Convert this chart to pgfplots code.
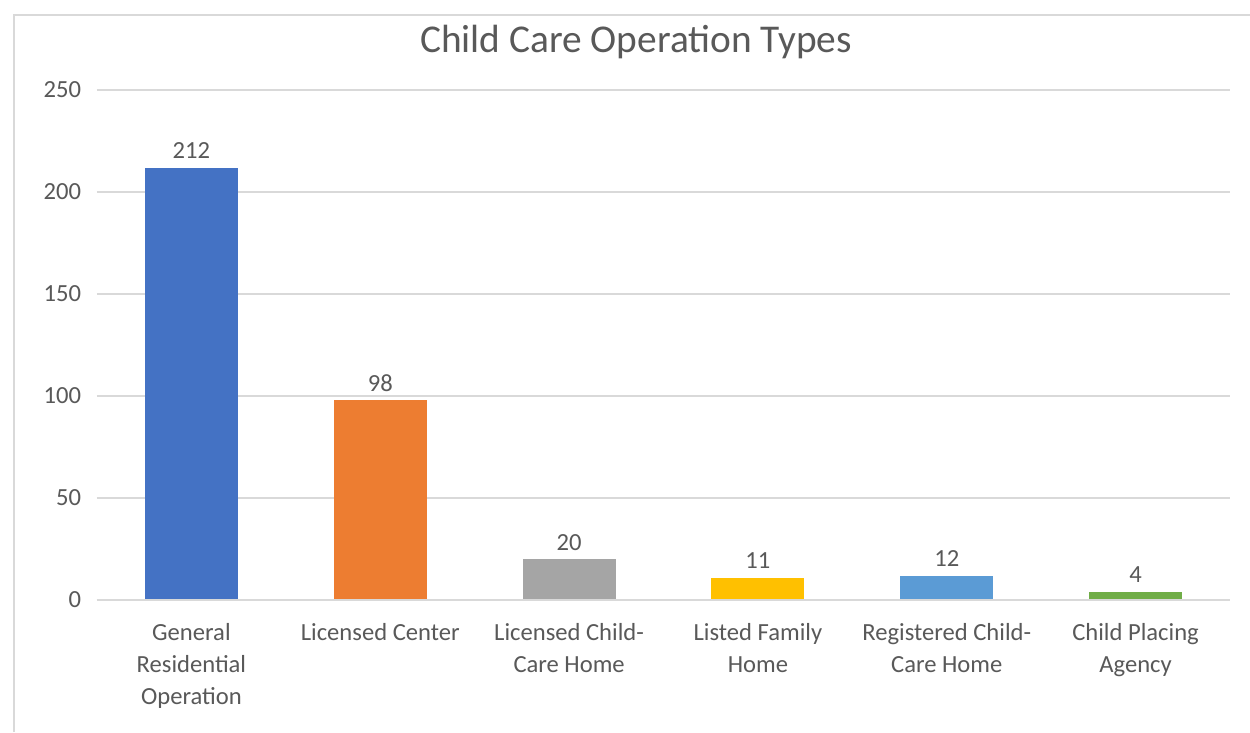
\documentclass[border=0pt]{standalone}
\usepackage{pgfplots}
\pgfplotsset{compat=1.18}
\usepackage{fontspec}
\setmainfont{Carlito}
\definecolor{txt}{HTML}{595959}
\definecolor{grd}{HTML}{D9D9D9}
\definecolor{c1}{HTML}{4472C4}
\definecolor{c2}{HTML}{ED7D31}
\definecolor{c3}{HTML}{A5A5A5}
\definecolor{c4}{HTML}{FFC000}
\definecolor{c5}{HTML}{5B9BD5}
\definecolor{c6}{HTML}{70AD47}
\begin{document}
\begin{tikzpicture}
\useasboundingbox[fill=white] (0,0) rectangle (12.5cm,7.32cm);
\draw[grd,line width=0.6pt] (0.14cm,0) -- (0.14cm,7.17cm) -- (12.5cm,7.17cm);
\node[text=txt,font=\fontsize{11.2}{13}\selectfont] at (6.36cm,6.90cm) {Child Care Operation Types};
\begin{axis}[
  at={(0.97cm,1.32cm)}, anchor=south west,
  scale only axis, width=11.33cm, height=5.10cm,
  xmin=-0.5, xmax=5.5, ymin=0, ymax=250,
  ytick={0,50,100,150,200,250},
  xtick={0,1,2,3,4,5},
  xticklabels={{General\\Residential\\Operation},{Licensed Center},{Licensed Child-\\Care Home},{Listed Family\\Home},{Registered Child-\\Care Home},{Child Placing\\Agency}},
  xticklabel style={align=center, text=txt, font=\fontsize{7}{9.2}\selectfont, yshift=-3pt},
  yticklabel style={text=txt, font=\fontsize{7}{9}\selectfont, xshift=-1pt},
  /pgf/number format/assume math mode=true,
  axis line style={draw=none},
  ymajorgrids, grid style={grd, line width=0.6pt},
  major tick length=0pt,
  ybar, bar width=0.93cm, bar shift=0pt,
  nodes near coords,
  nodes near coords style={text=txt, font=\fontsize{7}{9}\selectfont, anchor=south, yshift=-1pt},
  clip=false,
]
\addplot[fill=c1, draw=none] coordinates {(0,212)};
\addplot[fill=c2, draw=none] coordinates {(1,98)};
\addplot[fill=c3, draw=none] coordinates {(2,20)};
\addplot[fill=c4, draw=none] coordinates {(3,11)};
\addplot[fill=c5, draw=none] coordinates {(4,12)};
\addplot[fill=c6, draw=none] coordinates {(5,4)};
\draw[grd, line width=0.6pt] (axis cs:-0.5,0) -- (axis cs:5.5,0);
\end{axis}
\end{tikzpicture}
\end{document}
